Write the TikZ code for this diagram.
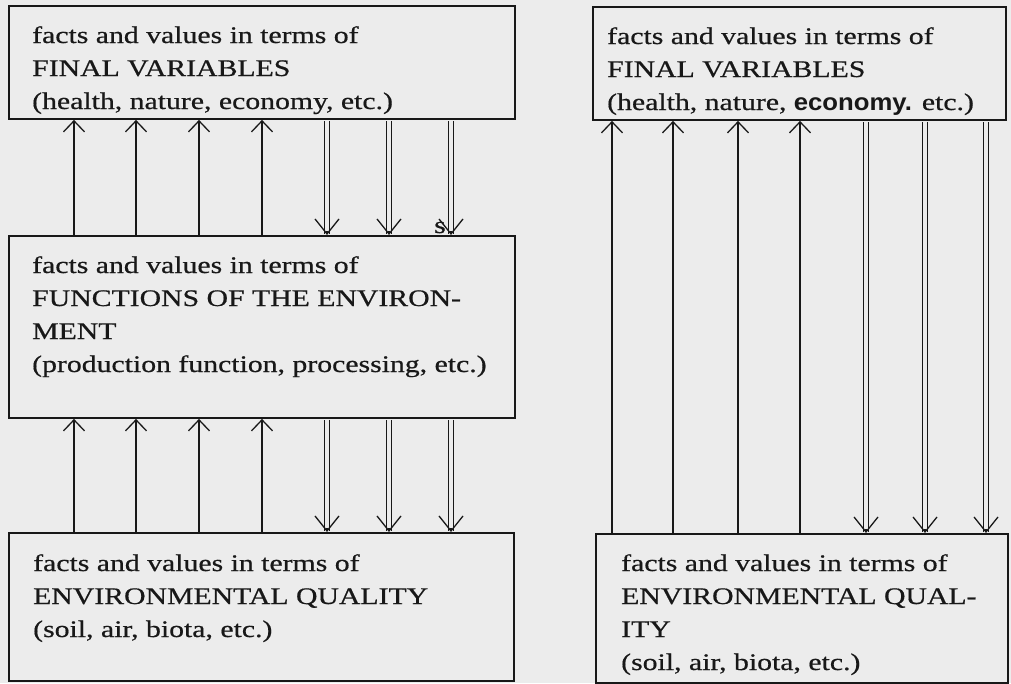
\documentclass[tikz,border=0pt]{standalone}
\usepackage{fontspec}
\setmainfont[FakeStretch=1.25, FakeBold=0.6]{Liberation Serif}
\newfontfamily\patchfont[FakeStretch=1.08]{Liberation Sans}
\usetikzlibrary{arrows.meta,calc}
\definecolor{paper}{RGB}{236,236,236}
\definecolor{ink}{RGB}{24,24,24}

\begin{document}
\begin{tikzpicture}[x=1pt,y=-1pt,
  box/.style={draw=ink, line width=1.9pt, fill=paper, rectangle,
              anchor=north west, inner sep=0pt},
  % anchored on the baseline of the last line of the text
  txt/.style={anchor=base west, align=left, inner sep=0pt, text=ink,
              font=\fontsize{23.8}{33}\selectfont},
  upline/.style={draw=ink, line width=1.3pt,
                 -{Straight Barb[length=11pt,width=21pt,line width=1.3pt]}},
  dline/.style={draw=ink, line width=1.2pt, double=paper, double distance=3.2pt,
                shorten <=1pt, shorten >=1pt},
  downtip/.style={draw=ink, line width=1.3pt,
                  -{Straight Barb[length=15pt,width=24pt,line width=1.3pt]}}
]
\useasboundingbox[fill=paper] (0,0) rectangle (1011,683);

% the five boxes
\node[box, minimum width=506pt, minimum height=113pt] (ftl) at (8,5) {};
\node[box, minimum width=413pt, minimum height=113pt] (ftr) at (592,6) {};
\node[box, minimum width=506pt, minimum height=182pt] (fel) at (8,235) {};
\node[box, minimum width=505pt, minimum height=148pt] (eql) at (8,532) {};
\node[box, minimum width=412pt, minimum height=149pt] (eqr) at (595,533) {};

% texts inside the boxes
\node[txt] (ftltext) at (32,109) {facts and values in terms of\\FINAL VARIABLES\\(health, nature, economy, etc.)};
\node[txt] (ftrtext) at (607,110) {facts and values in terms of\\FINAL VARIABLES\\(health, nature, {\patchfont\bfseries economy.} etc.)};
\node[txt] (feltext) at (32,372) {facts and values in terms of\\FUNCTIONS OF THE ENVIRON-\\MENT\\(production function, processing, etc.)};
\node[txt] (eqltext) at (33,637) {facts and values in terms of\\ENVIRONMENTAL QUALITY\\(soil, air, biota, etc.)};
\node[txt] (eqrtext) at (621,670) {facts and values in terms of\\ENVIRONMENTAL QUAL-\\ITY\\(soil, air, biota, etc.)};
\node[txt] (stray) at (434,233) {s};

% left column: single upward arrows
\foreach \x in {74,136,199,262} {
  \draw[upline] (fel.north -| \x,0) -- (ftl.south -| \x,0);
  \draw[upline] (eql.north -| \x,0) -- (fel.south -| \x,0);
}
% left column: double downward arrows
\foreach \x in {327,389,451} {
  \draw[dline] (ftl.south -| \x,0) -- (fel.north -| \x,0);
  \draw[downtip] ($(fel.north -| \x,0)+(0,-4)$) -- (fel.north -| \x,0);
  \draw[dline] (fel.south -| \x,0) -- (eql.north -| \x,0);
  \draw[downtip] ($(eql.north -| \x,0)+(0,-4)$) -- (eql.north -| \x,0);
}

% right column: single upward arrows
\foreach \x in {612,673,738,800} {
  \draw[upline] (eqr.north -| \x,0) -- (ftr.south -| \x,0);
}
% right column: double downward arrows
\foreach \x in {866,925,986} {
  \draw[dline] (ftr.south -| \x,0) -- (eqr.north -| \x,0);
  \draw[downtip] ($(eqr.north -| \x,0)+(0,-4)$) -- (eqr.north -| \x,0);
}
\end{tikzpicture}
\end{document}
